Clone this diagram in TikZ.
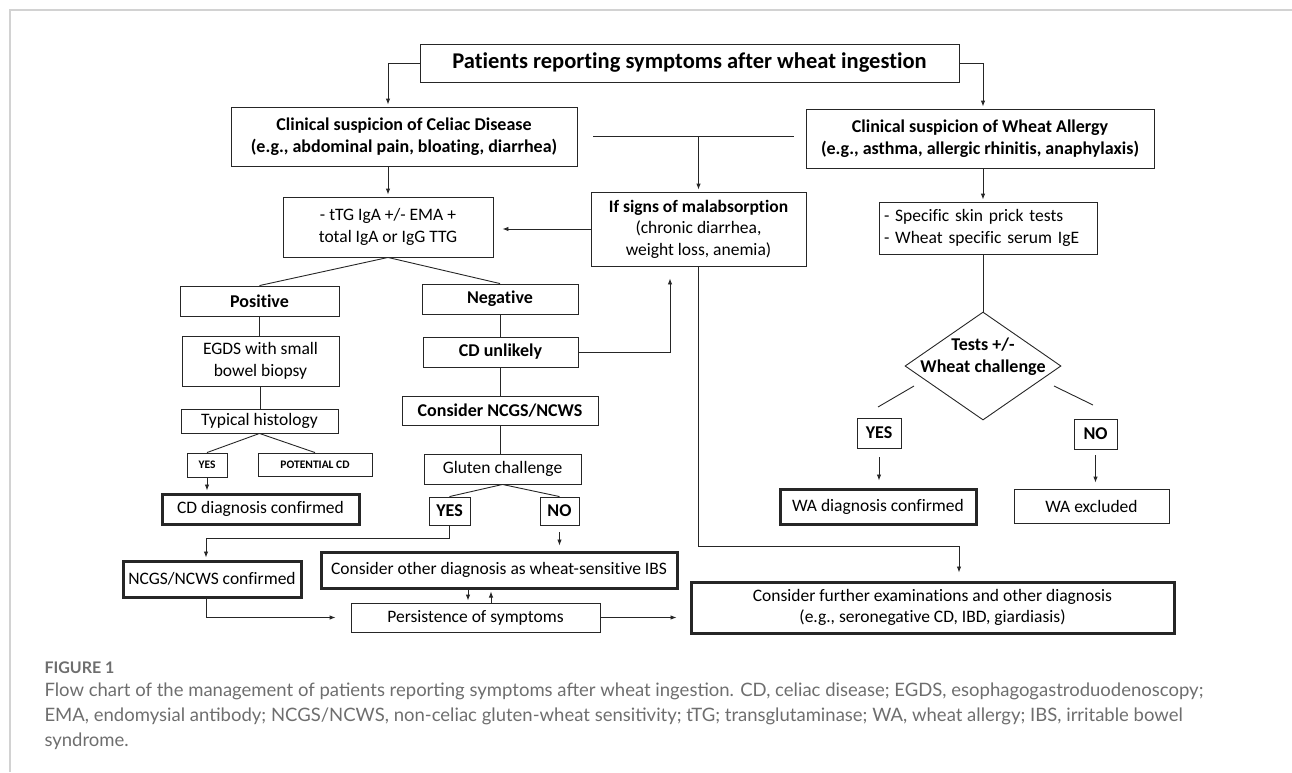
\documentclass[tikz,border=0pt]{standalone}
\usepackage{fontspec}
\setmainfont{Carlito}[Ligatures=NoCommon]
\newfontfamily\capfont{Lato}
\usetikzlibrary{arrows.meta,shapes.geometric}
\definecolor{framegrey}{HTML}{D2D2D2}
\definecolor{capgrey}{HTML}{6E6E6E}

\begin{document}
\begin{tikzpicture}[x=1pt,y=-1pt,
    box/.style={draw=black!85, line width=0.9pt, align=center, inner sep=1pt, font=\fontsize{17.5}{21.5}\selectfont},
    boldbox/.style={box, font=\fontsize{18}{21.5}\selectfont\bfseries},
    tinybox/.style={box, font=\fontsize{11.5}{13}\selectfont\bfseries},
    finalbox/.style={box, line width=3pt},
    conn/.style={line width=0.9pt, black!85},
    arr/.style={conn, -{Latex[length=6pt,width=4.5pt]}, shorten >=2pt}]

        \useasboundingbox (0,0) rectangle (1292,772);

        % Frame
        \draw[framegrey, line width=2pt] (10,772) -- (10,10) -- (1292,10);

        % Top
        \node[boldbox, font=\fontsize{22.5}{26}\selectfont\bfseries, minimum width=539pt, minimum height=38pt] (top) at (689.5,63) {Patients reporting symptoms after wheat ingestion};
        \node[boldbox, minimum width=346pt, minimum height=59pt] (celiac) at (404,136.5) {Clinical suspicion of Celiac Disease\\(e.g., abdominal pain, bloating, diarrhea)};
        \node[boldbox, minimum width=348pt, minimum height=59pt] (wa) at (980,138.5) {Clinical suspicion of Wheat Allergy\\(e.g., asthma, allergic rhinitis, anaphylaxis)};
        \coordinate (split1) at (593,136);
        \coordinate (split2) at (794,136);

        % Celiac branch
        \node[box, minimum width=210pt, minimum height=60pt] (ttg) at (388,227) {- tTG IgA +/- EMA +\\total IgA or IgG TTG};
        \node[box, minimum width=215pt, minimum height=74pt] (malabs) at (698.5,229) {\textbf{If signs of malabsorption}\\(chronic diarrhea,\\weight loss, anemia)};
        \node[boldbox, minimum width=159pt, minimum height=30pt] (pos) at (259.5,301) {Positive};
        \node[boldbox, minimum width=156pt, minimum height=30pt] (neg) at (500,299) {Negative};
        \node[box, minimum width=157pt, minimum height=50pt] (egds) at (260.5,361) {EGDS with small\\bowel biopsy};
        \node[boldbox, minimum width=155pt, minimum height=30pt] (unlikely) at (500.5,352) {CD unlikely};
        \node[box, minimum width=157pt, minimum height=24pt] (histo) at (259.5,421) {Typical histology};
        \node[boldbox, minimum width=196pt, minimum height=29pt] (ncgs) at (500,410.5) {Consider NCGS/NCWS};
        \node[tinybox, minimum width=40pt, minimum height=24pt] (yesA) at (207,465) {YES};
        \node[tinybox, minimum width=114pt, minimum height=23pt] (potcd) at (315,464.5) {POTENTIAL CD};
        \node[box, minimum width=157pt, minimum height=30pt] (gluten) at (502.5,469) {Gluten challenge};
        \node[finalbox, minimum width=197pt, minimum height=30pt] (cdconf) at (260.5,509) {CD diagnosis confirmed};
        \node[boldbox, minimum width=41pt, minimum height=28pt] (yesB) at (449.5,511) {YES};
        \node[boldbox, minimum width=39pt, minimum height=28pt] (noB) at (559.5,511) {NO};
        \node[finalbox, minimum width=178pt, minimum height=36pt] (ncgsconf) at (212,579) {NCGS/NCWS confirmed};
        \node[finalbox, minimum width=356pt, minimum height=36pt] (other) at (499,570) {Consider other diagnosis as wheat-sensitive IBS};
        \node[box, minimum width=249pt, minimum height=29pt] (persist) at (475.5,617.5) {Persistence of symptoms};
        \node[finalbox, minimum width=483pt, minimum height=51pt] (further) at (932.5,607.5) {Consider further examinations and other diagnosis\\(e.g., seronegative CD, IBD, giardiasis)};

        % Wheat allergy branch
        \node[box, align=left, text width=208pt, minimum width=218pt, minimum height=52pt] (skin) at (988,228) {- Specific skin prick tests\\- Wheat specific serum IgE};
        \node[boldbox, diamond, minimum width=156pt, minimum height=108pt, inner sep=-30pt] (chall) at (983,366) {Tests +/-\\Wheat challenge\\\mbox{}};
        \node[boldbox, minimum width=44pt, minimum height=30pt] (yesC) at (879,433) {YES};
        \node[boldbox, minimum width=43pt, minimum height=30pt] (noC) at (1095.5,434) {NO};
        \node[finalbox, minimum width=196pt, minimum height=35pt] (waconf) at (878,506.5) {WA diagnosis confirmed};
        \node[box, minimum width=155pt, minimum height=34pt] (waexcl) at (1091.5,506) {WA excluded};
        \coordinate (dA1) at (914,386);
        \coordinate (dA2) at (878,407);
        \coordinate (dB1) at (1054,386);
        \coordinate (dB2) at (1093,405);

        % Connectors
        \draw[arr] (top.west) -| (ttg.north |- celiac.north);
        \draw[arr] (top.east) -| ([xshift=3pt]wa.north);
        \draw[conn] (split1) -- (split2);
        \draw[arr] (malabs.north |- split1) -- (malabs.north);
        \draw[arr] (ttg.north |- celiac.south) -- (ttg.north);
        \draw[arr, shorten >=9pt] (malabs.west) -- (malabs.west -| ttg.east);
        \draw[conn] (ttg.south) -- (pos.north);
        \draw[conn] (ttg.south) -- (neg.north);
        \draw[conn] (pos.south) -- (pos.south |- egds.north);
        \draw[conn] (egds.south) -- (egds.south |- histo.north);
        \draw[conn] (histo.south) -- (yesA.north);
        \draw[conn] (histo.south) -- (potcd.north);
        \draw[arr] (yesA.south) -- (yesA.south |- cdconf.north);
        \draw[conn] (neg.south) -- (neg.south |- unlikely.north);
        \draw[conn] (unlikely.south) -- (unlikely.south |- ncgs.north);
        \draw[conn] (ncgs.south) -- (ncgs.south |- gluten.north);
        \draw[arr, shorten >=12pt] (unlikely.east) -| ([xshift=-28.5pt]malabs.south);
        \draw[conn] (gluten.south) -- (yesB.north);
        \draw[conn] (gluten.south) -- (noB.north);
        \draw[arr] (yesB.south) -- ++(0,13) -| ([xshift=-6pt]ncgsconf.north);
        \draw[arr, shorten <=7pt, shorten >=5pt] (noB.south) -- (noB.south |- other.north);
        \draw[arr] ([xshift=-31pt]other.south) -- ([xshift=-31pt]other.south |- persist.north);
        \draw[arr] ([xshift=-8pt]other.south |- persist.north) -- ([xshift=-8pt]other.south);
        \draw[arr, shorten >=15pt] ([xshift=-6pt]ncgsconf.south) |- (persist.west);
        \draw[arr, shorten >=13pt] (persist.east) -- (persist.east -| further.west);
        \draw[arr, shorten >=8pt] (malabs.south) -- ++(0,280) -| ([xshift=26.5pt]further.north);
        \draw[arr] ([xshift=3pt]wa.south) -- ([xshift=3pt]wa.south |- skin.north);
        \draw[conn] (chall.north |- skin.south) -- (chall.north);
        \draw[conn] (dA1) -- (dA2);
        \draw[conn] (dB1) -- (dB2);
        \draw[arr, shorten <=9pt, shorten >=7pt] (yesC.south) -- (yesC.south |- waconf.north);
        \draw[arr, shorten <=6pt, shorten >=6pt] (noC.south) -- (noC.south |- waexcl.north);

        % Caption
        \node[anchor=base west, text=capgrey, font=\capfont\fontsize{16}{19}\selectfont\bfseries] (figlabel) at (41,673) {FIGURE 1};
        \node[anchor=base west, text=capgrey, font=\capfont\fontsize{18.5}{25}\selectfont] (capA) at (41,696) {Flow chart of the management of patients reporting symptoms after wheat ingestion. CD, celiac disease; EGDS, esophagogastroduodenoscopy;};
        \node[anchor=base west, text=capgrey, font=\capfont\fontsize{18.5}{25}\selectfont] (capB) at (41,721) {EMA, endomysial antibody; NCGS/NCWS, non-celiac gluten-wheat sensitivity; tTG; transglutaminase; WA, wheat allergy; IBS, irritable bowel};
        \node[anchor=base west, text=capgrey, font=\capfont\fontsize{18.5}{25}\selectfont] (capC) at (41,746) {syndrome.};
\end{tikzpicture}
\end{document}
